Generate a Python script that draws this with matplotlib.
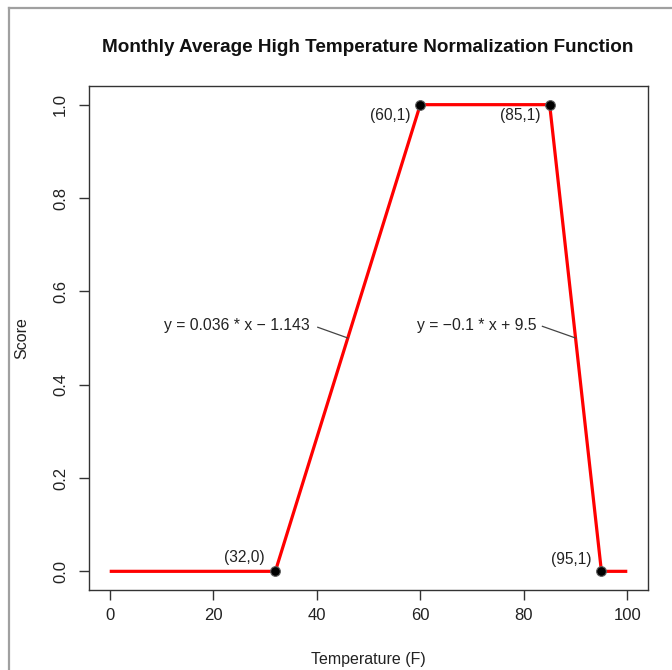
import matplotlib
matplotlib.use("Agg")
import matplotlib.pyplot as plt
from matplotlib.lines import Line2D

plt.rcParams['font.family'] = ['Liberation Sans', 'DejaVu Sans']

# data
line_x = [0, 32, 60, 85, 95, 100]
line_y = [0, 0, 1, 1, 0, 0]
pt_x = [32, 60, 85, 95]
pt_y = [0, 1, 1, 0]
pt_labels = ["(32,0)", "(60,1)", "(85,1)", "(95,1)"]
x_ticks = [0, 20, 40, 60, 80, 100]
y_ticks = [0.0, 0.2, 0.4, 0.6, 0.8, 1.0]
eq1 = "y = 0.036 * x \u2212 1.143"
eq2 = "y = \u22120.1 * x + 9.5"

fig = plt.figure(figsize=(6.72, 6.70), dpi=100)
ax = fig.add_axes([89/672, 1-590/670, (648-89)/672, (590-86)/670])

ax.plot(line_x, line_y, color='#ff0000', lw=2.3, solid_capstyle='butt', zorder=2)
ax.plot(pt_x, pt_y, 'o', ms=7, mfc='black', mec='#606060', mew=0.8, zorder=3)

# point labels
label_pos = [(29.9, 0.030), (58.1, 0.976), (83.2, 0.976), (93.1, 0.026)]
for (lx, ly), t in zip(label_pos, pt_labels):
    ax.text(lx, ly, t, ha='right', va='center', fontsize=11.2, color='#222222')

# equations with leader lines
ax.text(24.5, 0.527, eq1, ha='center', va='center', fontsize=11.3, color='#222222')
ax.plot([40.2, 46.0], [0.523, 0.50], color='#444444', lw=0.9)
ax.text(71.0, 0.527, eq2, ha='center', va='center', fontsize=11.3, color='#222222')
ax.plot([83.6, 90.0], [0.525, 0.50], color='#444444', lw=0.9)

ax.set_xlim(-4, 104)
ax.set_ylim(-0.04, 1.04)
ax.set_xticks(x_ticks)
ax.set_xticklabels([str(v) for v in x_ticks])
ax.set_yticks(y_ticks)
ax.set_yticklabels([f"{v:.1f}" for v in y_ticks], rotation=90, va='center')

for s in ax.spines.values():
    s.set_color('#333333')
    s.set_linewidth(1.0)
ax.tick_params(axis='both', direction='out', length=7, width=1.0, color='#333333',
               labelsize=12, labelcolor='#222222', pad=6)
ax.tick_params(axis='y', pad=8)

ax.set_xlabel("Temperature (F)", fontsize=11.5, color='#222222', labelpad=21)
ax.set_ylabel("Score", fontsize=11.5, color='#222222', labelpad=17)

fig.text(368/672, 1-47/670, "Monthly Average High Temperature Normalization Function",
         ha='center', va='center', fontsize=13.6, fontweight='bold', color='#111111')

# outer frame (cropped screenshot border)
fig.add_artist(Line2D([9/672, 9/672], [0, 1-8/670], transform=fig.transFigure,
                      color='#a0a0a0', lw=1.6))
fig.add_artist(Line2D([9/672, 1], [1-8/670, 1-8/670], transform=fig.transFigure,
                      color='#a0a0a0', lw=1.6))

fig.savefig("out.png", dpi=100)
